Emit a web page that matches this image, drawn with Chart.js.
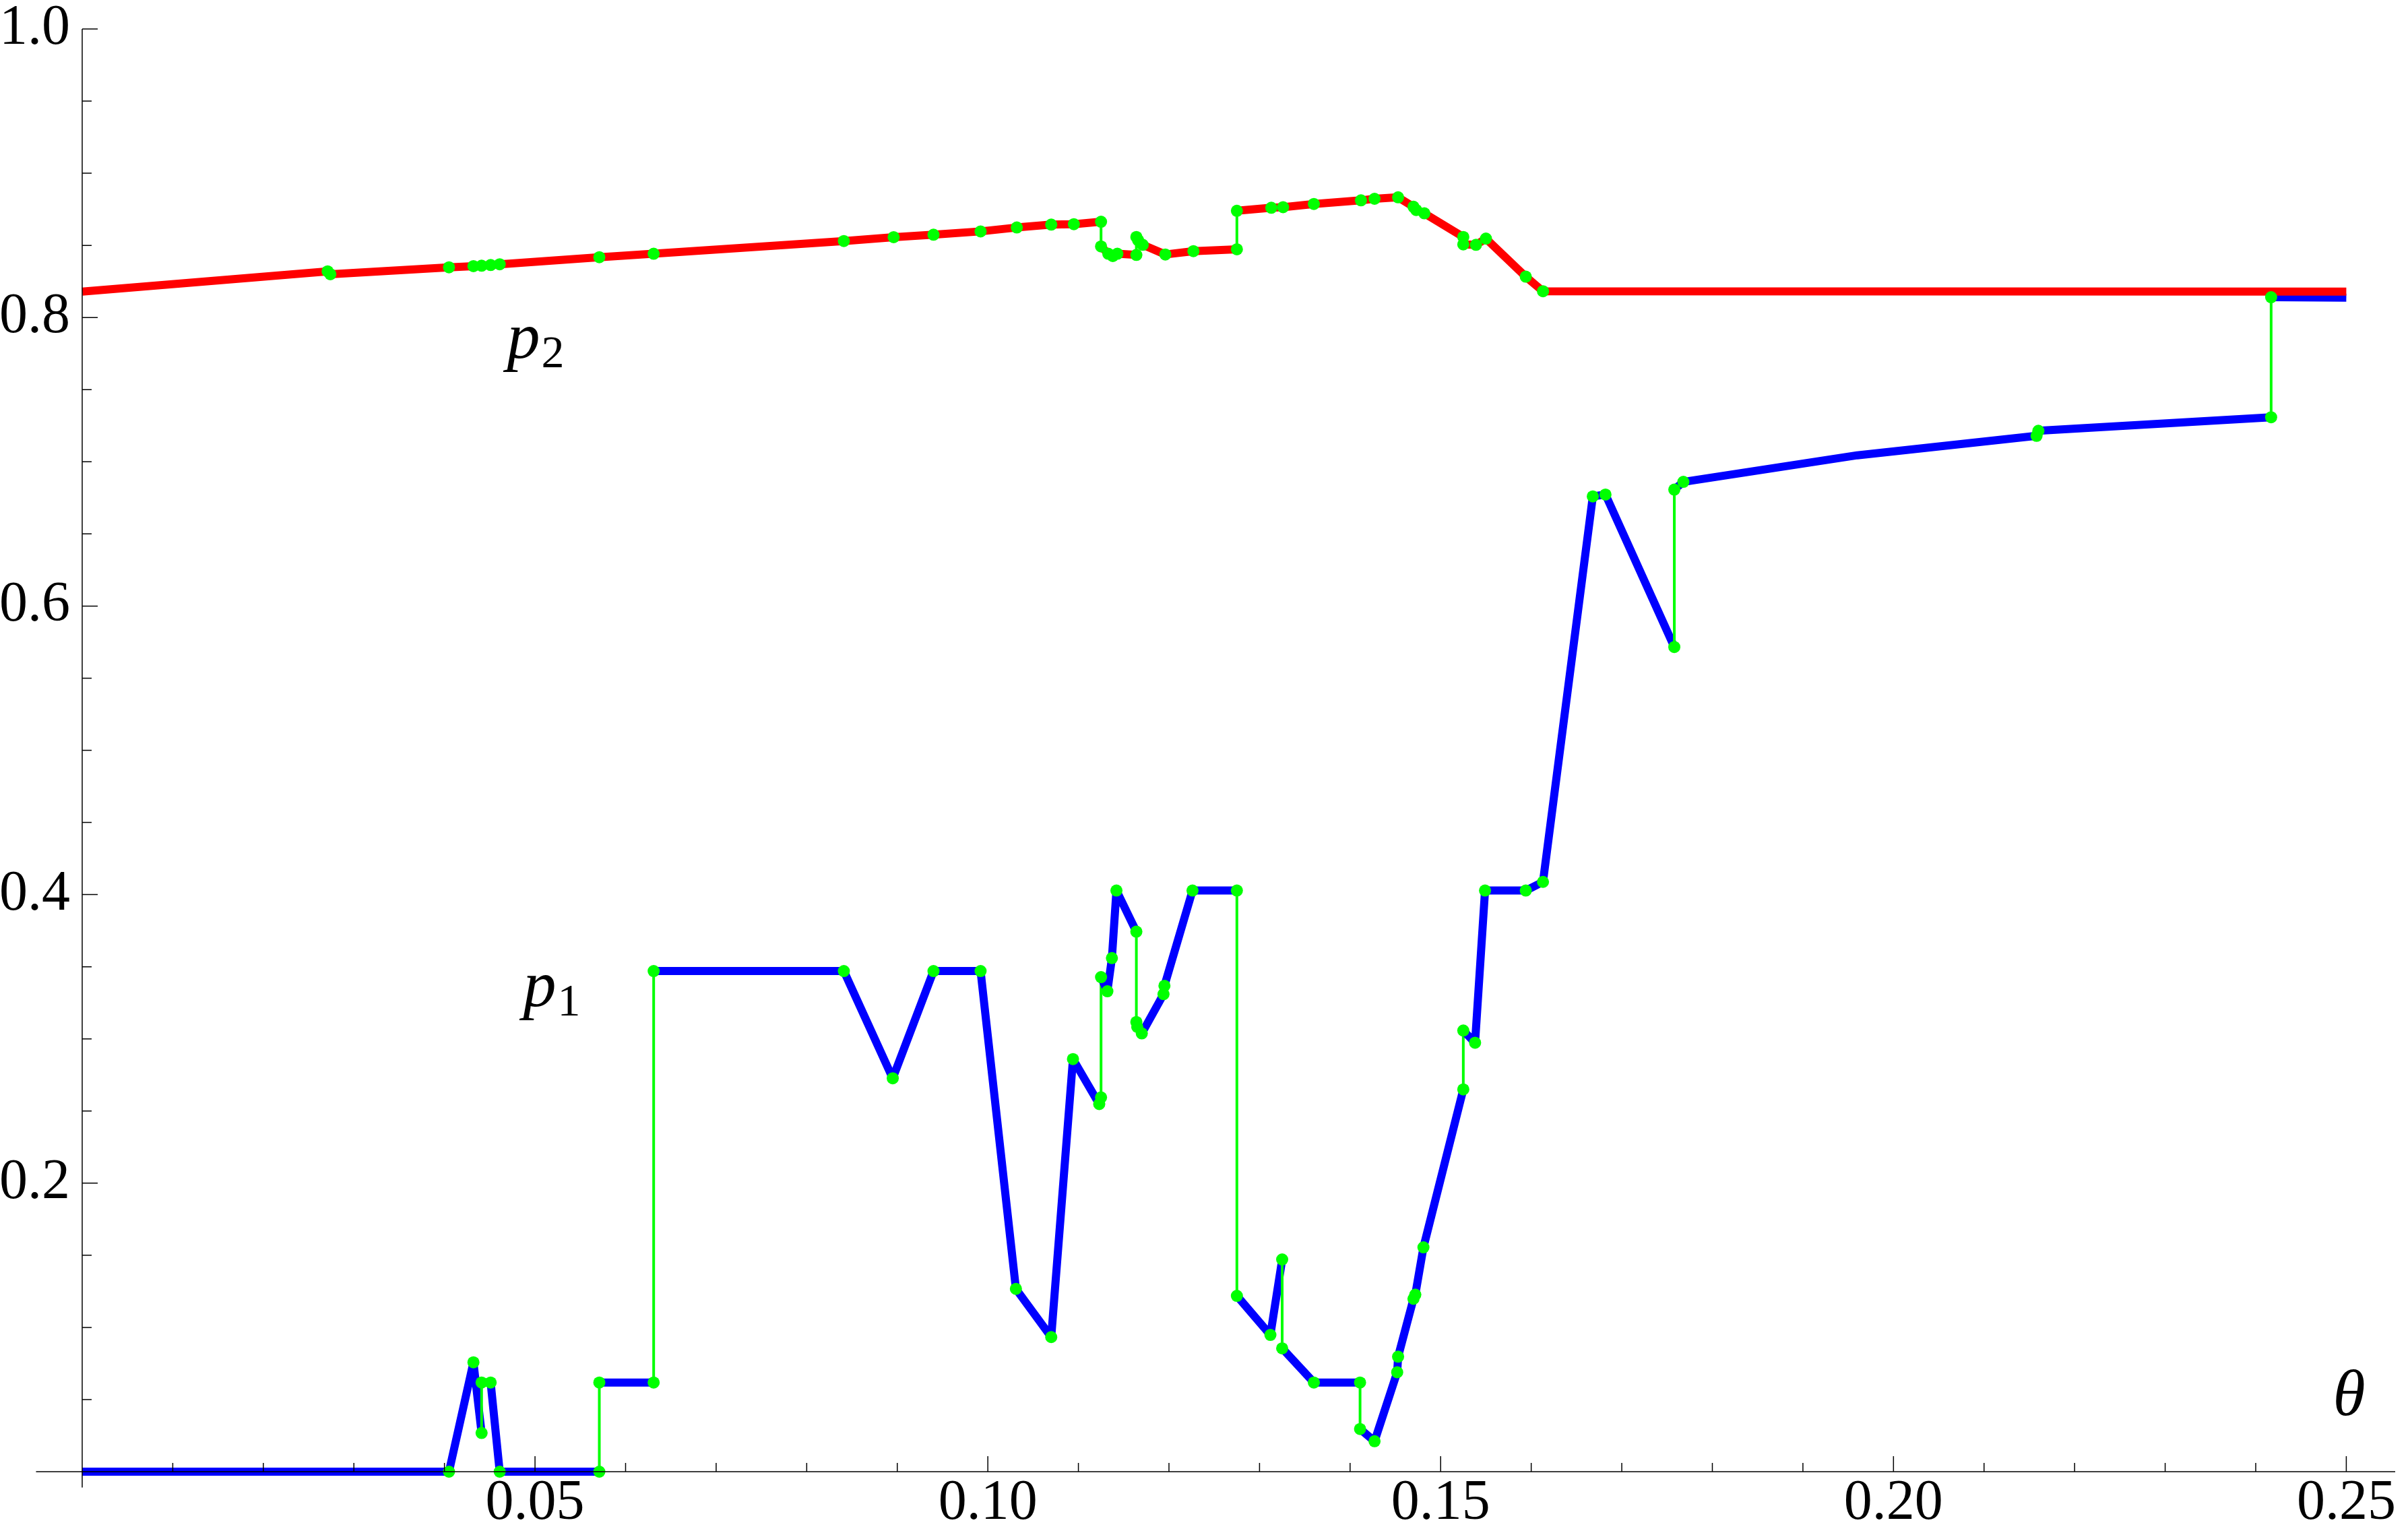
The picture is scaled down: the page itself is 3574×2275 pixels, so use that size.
<!DOCTYPE html>
<html lang="en">

<head>
    <meta charset="UTF-8">
    <title>p1 p2 theta</title>
    <style>
        html, body { margin: 0; padding: 0; background: #fff; }
        #wrap { width: 3574px; height: 2275px; position: relative; }
    </style>
</head>

<body>
    <div id="wrap">
        <canvas id="myChart"></canvas>
    </div>

    <script src="https://cdn.jsdelivr.net/npm/chart.js"></script>
    <script>
        // p1 (blue) - equal theta twice in a row = jump (thin green line)
        const p1Theta = [0, 0.0405, 0.0432, 0.0441, 0.0441, 0.0451, 0.0461, 0.0571, 0.0571, 0.0631, 0.0631,
            0.0841, 0.0895, 0.0940, 0.0992, 0.1031, 0.1070, 0.1094, 0.1123, 0.1125, 0.1125, 0.1132, 0.1137,
            0.1142, 0.1164, 0.1164, 0.1165, 0.1170, 0.1194, 0.1195, 0.1226, 0.1275, 0.1275, 0.1312, 0.1325,
            0.1325, 0.1360, 0.1411, 0.1411, 0.1427, 0.1452, 0.1453, 0.1470, 0.1472, 0.1481, 0.1525, 0.1525,
            0.1538, 0.1549, 0.1594, 0.1613, 0.1668, 0.1682, 0.1758, 0.1758, 0.1768, 0.1960, 0.2158, 0.2160,
            0.2417, 0.2417, 0.25];
        const p1Value = [0, 0, 0.0758, 0.0268, 0.0618, 0.0618, 0, 0, 0.0618, 0.0618, 0.347,
            0.347, 0.2727, 0.347, 0.347, 0.1267, 0.0933, 0.286, 0.2548, 0.2594, 0.3428, 0.333, 0.356,
            0.4028, 0.3743, 0.3117, 0.3083, 0.3038, 0.331, 0.3368, 0.4028, 0.4028, 0.1219, 0.0948, 0.1471,
            0.0855, 0.0618, 0.0618, 0.0296, 0.0211, 0.0689, 0.0797, 0.1198, 0.1227, 0.1555, 0.265, 0.3058,
            0.2973, 0.4028, 0.4028, 0.4088, 0.676, 0.6773, 0.5716, 0.6807, 0.6861, 0.7045, 0.7180, 0.7215,
            0.7309, 0.8141, 0.8138];
        // curve points drawn without a marker
        const p1Unmarked = [0.1960];

        // p2 (red)
        const p2Theta = [0, 0.0271, 0.0274, 0.0405, 0.0432, 0.0441, 0.0451, 0.0461, 0.0571, 0.0631, 0.0841,
            0.0896, 0.0940, 0.0992, 0.1032, 0.1070, 0.1095, 0.1125, 0.1125, 0.1133, 0.1138, 0.1143, 0.1164,
            0.1164, 0.1166, 0.1171, 0.1196, 0.1227, 0.1275, 0.1275, 0.1313, 0.1326, 0.1360, 0.1412, 0.1427,
            0.1453, 0.1470, 0.1473, 0.1482, 0.1525, 0.1525, 0.1539, 0.1550, 0.1594, 0.1613, 0.25];
        const p2Value = [0.818, 0.832, 0.830, 0.8348, 0.8356, 0.8359, 0.8364, 0.8369, 0.8418, 0.8442, 0.853,
            0.8557, 0.8574, 0.8597, 0.8624, 0.8644, 0.8647, 0.8664, 0.8493, 0.8442, 0.8426, 0.8442, 0.8434,
            0.8558, 0.8535, 0.8504, 0.8437, 0.846, 0.8473, 0.874, 0.8761, 0.8765, 0.8787, 0.8812, 0.8823,
            0.8833, 0.8768, 0.8745, 0.8722, 0.8558, 0.8507, 0.8504, 0.8547, 0.8283, 0.8182, 0.818];
        const p2Unmarked = [];

        const xTicks = [0.05, 0.10, 0.15, 0.20, 0.25];
        const yTicks = [0.2, 0.4, 0.6, 0.8, 1.0];

        // text labels, data coords (left/baseline for p, centre/baseline for theta)
        const p1Label = { x: 0.0487, y: 0.3227 };
        const p2Label = { x: 0.0469, y: 0.7721 };
        const thetaLabel = { x: 0.2503, y: 0.0392 };

        const blue = 'rgb(0,0,255)';
        const red = 'rgb(255,0,0)';
        const green = 'rgb(0,255,0)';

        const toPts = (xs, ys) => xs.map((x, i) => ({ x: x, y: ys[i] }));
        const p1Pts = toPts(p1Theta, p1Value);
        const p2Pts = toPts(p2Theta, p2Value);

        const isJump = ctx => ctx.p0.parsed.x === ctx.p1.parsed.x;

        const lineSet = (pts, color, order) => ({
            data: pts,
            showLine: true,
            borderColor: color,
            borderWidth: 12,
            borderJoinStyle: 'round',
            pointRadius: 0,
            clip: false,
            order: order,
            segment: {
                borderColor: ctx => isJump(ctx) ? green : color,
                borderWidth: ctx => isJump(ctx) ? 4 : 12
            }
        });

        // green markers on every vertex except the two ends
        const dotSet = (pts, unmarked, order) => ({
            data: pts.slice(1, -1).filter(p => !unmarked.includes(p.x)),
            showLine: false,
            pointRadius: 9,
            pointBackgroundColor: green,
            pointBorderWidth: 0,
            clip: false,
            order: order
        });

        // axes like mathematica: crossing at origin, ticks pointing inside
        const axesPlugin = {
            id: 'axesPlugin',
            afterDatasetsDraw(chart) {
                const ctx = chart.ctx;
                const xs = chart.scales.x;
                const ys = chart.scales.y;
                const x0 = xs.getPixelForValue(0);
                const y0 = ys.getPixelForValue(0);
                ctx.save();
                ctx.strokeStyle = '#000';
                ctx.lineWidth = 1.5;
                ctx.beginPath();
                ctx.moveTo(xs.getPixelForValue(-0.0051), y0);
                ctx.lineTo(chart.chartArea.right, y0);
                ctx.moveTo(x0, ys.getPixelForValue(1.0));
                ctx.lineTo(x0, ys.getPixelForValue(-0.011));
                // x ticks
                for (let i = 1; i <= 25; i++) {
                    const px = xs.getPixelForValue(i / 100);
                    const len = i % 5 === 0 ? 23 : 13;
                    ctx.moveTo(px, y0);
                    ctx.lineTo(px, y0 - len);
                }
                // y ticks
                for (let i = 1; i <= 20; i++) {
                    const py = ys.getPixelForValue(i / 20);
                    const len = i % 4 === 0 ? 23 : 14;
                    ctx.moveTo(x0, py);
                    ctx.lineTo(x0 + len, py);
                }
                ctx.stroke();

                ctx.fillStyle = '#000';
                ctx.textBaseline = 'alphabetic';
                // theta
                ctx.font = 'italic 98px "Liberation Serif"';
                ctx.textAlign = 'center';
                ctx.fillText('θ', xs.getPixelForValue(thetaLabel.x), ys.getPixelForValue(thetaLabel.y));
                // p1, p2
                ctx.textAlign = 'left';
                [[p1Label, '1'], [p2Label, '2']].forEach(([lab, sub]) => {
                    const lx = xs.getPixelForValue(lab.x);
                    const ly = ys.getPixelForValue(lab.y);
                    ctx.font = 'italic 98px "Liberation Serif"';
                    ctx.fillText('p', lx, ly);
                    const w = ctx.measureText('p').width;
                    ctx.font = '68px "Liberation Serif"';
                    ctx.fillText(sub, lx + w + 2, ly + 14);
                });
                ctx.restore();
            }
        };

        const tickFont = { family: "'Liberation Serif'", size: 84, lineHeight: 1 };

        new Chart(document.getElementById('myChart'), {
            type: 'scatter',
            data: {
                datasets: [
                    lineSet(p1Pts, blue, 4),
                    lineSet(p2Pts, red, 3),
                    dotSet(p1Pts, p1Unmarked, 2),
                    dotSet(p2Pts, p2Unmarked, 1)
                ]
            },
            options: {
                responsive: true,
                maintainAspectRatio: false,
                devicePixelRatio: 1,
                animation: false,
                layout: { padding: { top: 43, right: 19, left: 0, bottom: 0 } },
                plugins: {
                    legend: { display: false },
                    tooltip: { enabled: false }
                },
                scales: {
                    x: {
                        type: 'linear',
                        min: 0,
                        max: 0.2554,
                        grid: { display: false, drawTicks: false },
                        border: { display: false },
                        afterBuildTicks: scale => { scale.ticks = xTicks.map(v => ({ value: v })); },
                        afterFit: scale => { scale.height = 91; },
                        ticks: {
                            font: tickFont,
                            color: '#000',
                            padding: 6,
                            maxRotation: 0,
                            autoSkip: false,
                            callback: v => v.toFixed(2)
                        }
                    },
                    y: {
                        type: 'linear',
                        min: 0,
                        max: 1.0,
                        grid: { display: false, drawTicks: false },
                        border: { display: false },
                        afterBuildTicks: scale => { scale.ticks = yTicks.map(v => ({ value: v })); },
                        afterFit: scale => {
                            scale.width = 122;
                            // the top label may stick out, layout padding handles it
                            scale.paddingTop = 0;
                            scale.paddingBottom = 0;
                        },
                        ticks: {
                            font: tickFont,
                            color: '#000',
                            padding: 18,
                            autoSkip: false,
                            callback: v => v.toFixed(1)
                        }
                    }
                }
            },
            plugins: [axesPlugin]
        });
    </script>
</body>

</html>
